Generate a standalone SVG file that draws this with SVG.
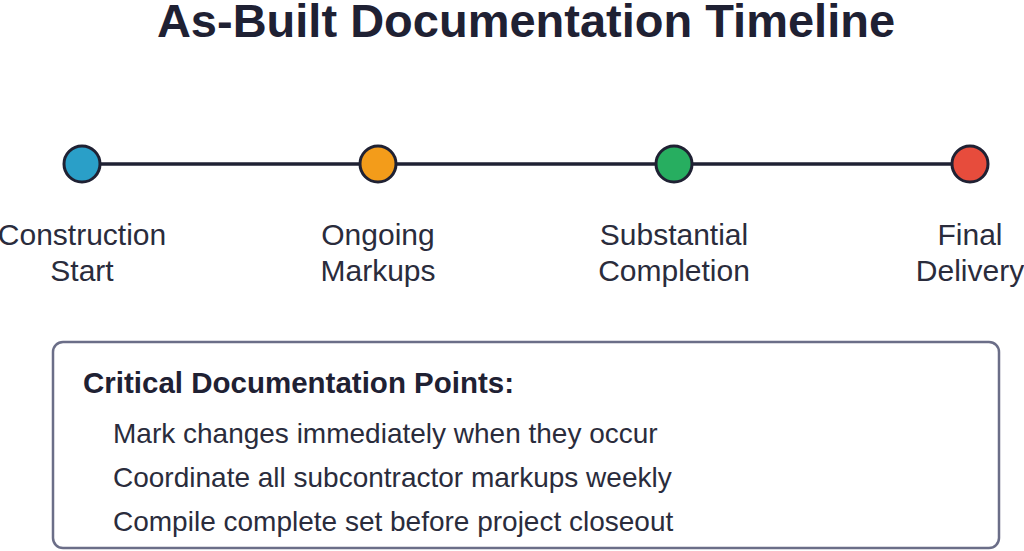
<svg xmlns="http://www.w3.org/2000/svg" width="1024" height="551" viewBox="0 0 1024 551">
<style>
.title{font-family:"Liberation Sans",Arial,sans-serif;font-weight:bold;font-size:47px;fill:#1f2133}
.lbl{font-family:"Liberation Sans",Arial,sans-serif;font-size:30px;fill:#2a2c3c;text-anchor:middle}
.dot{stroke:#1f2133;stroke-width:3}
.head{font-family:"Liberation Sans",Arial,sans-serif;font-weight:bold;font-size:29.5px;fill:#1f2133}
.item{font-family:"Liberation Sans",Arial,sans-serif;font-size:28px;fill:#2a2c3c}
</style>
<rect width="1024" height="551" fill="#ffffff"/>
<text class="title" x="526" y="37" text-anchor="middle">As-Built Documentation Timeline</text>
<g id="connectors">
<line x1="82" y1="164" x2="970" y2="164" stroke="#1f2133" stroke-width="3.5"/>
</g>
<g id="construction-start">
<circle class="dot" cx="82" cy="164" r="18" fill="#2a9fc8"/>
<text class="lbl" x="82" y="245">Construction</text>
<text class="lbl" x="82" y="281">Start</text>
</g>
<g id="ongoing-markups">
<circle class="dot" cx="378" cy="164" r="18" fill="#f39c1a"/>
<text class="lbl" x="378" y="245">Ongoing</text>
<text class="lbl" x="378" y="281">Markups</text>
</g>
<g id="substantial-completion">
<circle class="dot" cx="674" cy="164" r="18" fill="#27ae60"/>
<text class="lbl" x="674" y="245">Substantial</text>
<text class="lbl" x="674" y="281">Completion</text>
</g>
<g id="final-delivery">
<circle class="dot" cx="970" cy="164" r="18" fill="#e74c3c"/>
<text class="lbl" x="970" y="245">Final</text>
<text class="lbl" x="970" y="281">Delivery</text>
</g>
<g id="critical-points">
<rect x="53" y="342" width="946" height="206" rx="10" fill="#ffffff" stroke="#6b6e88" stroke-width="2.5"/>
<text class="head" x="83" y="393">Critical Documentation Points:</text>
<text class="item" x="113" y="443">Mark changes immediately when they occur</text>
<text class="item" x="113" y="487">Coordinate all subcontractor markups weekly</text>
<text class="item" x="113" y="531">Compile complete set before project closeout</text>
</g>
</svg>
